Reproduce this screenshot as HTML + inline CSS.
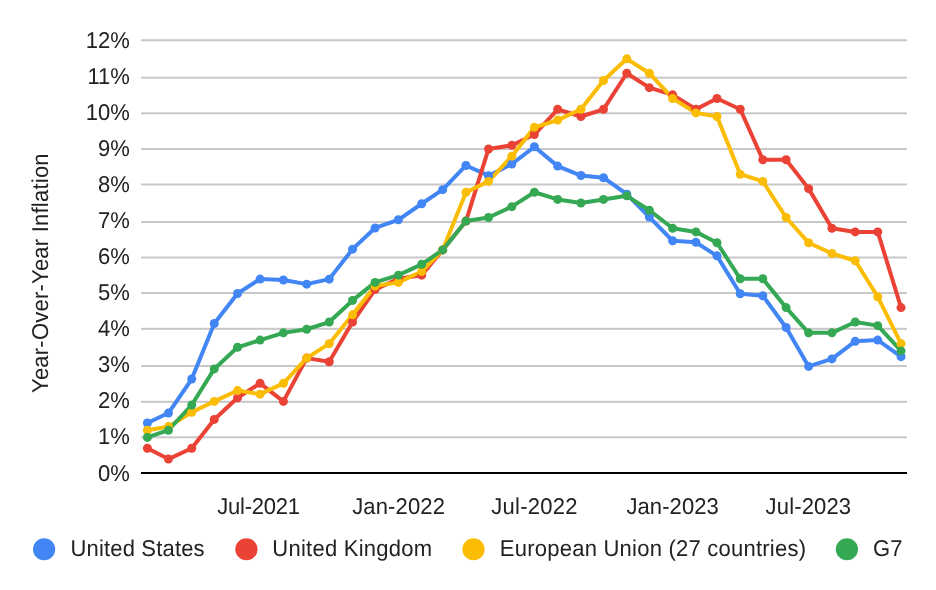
<!DOCTYPE html>
<html><head><meta charset="utf-8"><style>
html,body{margin:0;padding:0;background:#fff;}
body{width:936px;height:590px;overflow:hidden;}
svg{display:block;will-change:transform;}
text{text-rendering:geometricPrecision;font-family:"Liberation Sans",sans-serif;font-size:22px;fill:#222222;}
</style></head><body>
<svg width="936" height="590" viewBox="0 0 936 590">
<rect width="936" height="590" fill="#ffffff"/>
<rect x="141" y="436.30" width="766" height="2" fill="#c8c8c8"/>
<rect x="141" y="400.80" width="766" height="2" fill="#c8c8c8"/>
<rect x="141" y="365.00" width="766" height="2" fill="#c8c8c8"/>
<rect x="141" y="327.80" width="766" height="2" fill="#c8c8c8"/>
<rect x="141" y="292.00" width="766" height="2" fill="#c8c8c8"/>
<rect x="141" y="256.50" width="766" height="2" fill="#c8c8c8"/>
<rect x="141" y="221.00" width="766" height="2" fill="#c8c8c8"/>
<rect x="141" y="183.50" width="766" height="2" fill="#c8c8c8"/>
<rect x="141" y="148.00" width="766" height="2" fill="#c8c8c8"/>
<rect x="141" y="112.30" width="766" height="2" fill="#c8c8c8"/>
<rect x="141" y="76.70" width="766" height="2" fill="#c8c8c8"/>
<rect x="141" y="39.25" width="766" height="2" fill="#c8c8c8"/>
<text x="129.90" y="480.52" text-anchor="end" transform="matrix(1,0,0,1.04,0,-19.221)">0%</text>
<text x="129.90" y="444.46" text-anchor="end" transform="matrix(1,0,0,1.04,0,-17.778)">1%</text>
<text x="129.90" y="408.40" text-anchor="end" transform="matrix(1,0,0,1.04,0,-16.336)">2%</text>
<text x="129.90" y="372.34" text-anchor="end" transform="matrix(1,0,0,1.04,0,-14.894)">3%</text>
<text x="129.90" y="336.28" text-anchor="end" transform="matrix(1,0,0,1.04,0,-13.451)">4%</text>
<text x="129.90" y="300.22" text-anchor="end" transform="matrix(1,0,0,1.04,0,-12.009)">5%</text>
<text x="129.90" y="264.16" text-anchor="end" transform="matrix(1,0,0,1.04,0,-10.566)">6%</text>
<text x="129.90" y="228.10" text-anchor="end" transform="matrix(1,0,0,1.04,0,-9.124)">7%</text>
<text x="129.90" y="192.04" text-anchor="end" transform="matrix(1,0,0,1.04,0,-7.682)">8%</text>
<text x="129.90" y="155.98" text-anchor="end" transform="matrix(1,0,0,1.04,0,-6.239)">9%</text>
<text x="129.90" y="119.92" text-anchor="end" transform="matrix(1,0,0,1.04,0,-4.797)">10%</text>
<text x="129.90" y="83.86" text-anchor="end" transform="matrix(1,0,0,1.04,0,-3.354)">11%</text>
<text x="129.90" y="47.80" text-anchor="end" transform="matrix(1,0,0,1.04,0,-1.912)">12%</text>
<text x="258.61" y="513.60" text-anchor="middle" textLength="82.68" lengthAdjust="spacing" transform="matrix(1,0,0,1.04,0,-20.544)">Jul-2021</text>
<text x="398.57" y="513.60" text-anchor="middle" textLength="92.78" lengthAdjust="spacing" transform="matrix(1,0,0,1.04,0,-20.544)">Jan-2022</text>
<text x="534.37" y="513.60" text-anchor="middle" textLength="86.33" lengthAdjust="spacing" transform="matrix(1,0,0,1.04,0,-20.544)">Jul-2022</text>
<text x="672.63" y="513.60" text-anchor="middle" textLength="92.32" lengthAdjust="spacing" transform="matrix(1,0,0,1.04,0,-20.544)">Jan-2023</text>
<text x="808.33" y="513.60" text-anchor="middle" textLength="85.42" lengthAdjust="spacing" transform="matrix(1,0,0,1.04,0,-20.544)">Jul-2023</text>
<rect x="141" y="472.00" width="766" height="2" fill="#000000"/>
<polyline points="147.40,423.02 168.44,413.06 191.73,379.02 214.27,323.49 237.57,293.45 260.11,279.10 283.40,280.04 306.70,284.15 329.24,279.14 352.53,249.13 375.07,227.97 398.37,219.78 421.66,203.77 442.70,189.67 465.99,165.48 488.54,175.68 511.83,164.03 534.37,146.80 557.66,166.09 580.96,175.54 603.50,177.74 626.79,194.22 649.34,217.11 672.63,240.77 695.92,242.32 716.96,255.84 740.25,293.74 762.80,295.72 786.09,327.53 808.63,366.40 831.93,358.94 855.22,341.34 877.76,340.08 901.05,356.63" fill="none" stroke="#4285f4" stroke-width="4" stroke-linejoin="round" stroke-linecap="round"/>
<polyline points="147.40,448.26 168.44,459.08 191.73,448.26 214.27,419.41 237.57,397.77 260.11,383.35 283.40,401.38 306.70,358.11 329.24,361.71 352.53,322.05 375.07,289.59 398.37,278.78 421.66,275.17 442.70,249.93 465.99,221.08 488.54,148.96 511.83,145.35 534.37,134.54 557.66,109.29 580.96,116.51 603.50,109.29 626.79,73.23 649.34,87.66 672.63,94.87 695.92,109.29 716.96,98.48 740.25,109.29 762.80,159.78 786.09,159.78 808.63,188.63 831.93,228.29 855.22,231.90 877.76,231.90 901.05,307.62" fill="none" stroke="#ea4335" stroke-width="4" stroke-linejoin="round" stroke-linecap="round"/>
<polyline points="147.40,430.23 168.44,426.62 191.73,412.20 214.27,401.38 237.57,390.56 260.11,394.17 283.40,383.35 306.70,358.11 329.24,343.68 352.53,314.84 375.07,285.99 398.37,282.38 421.66,271.56 442.70,249.93 465.99,192.23 488.54,181.41 511.83,156.17 534.37,127.32 557.66,120.11 580.96,109.29 603.50,80.45 626.79,58.81 649.34,73.23 672.63,98.48 695.92,112.90 716.96,116.51 740.25,174.20 762.80,181.41 786.09,217.47 808.63,242.72 831.93,253.53 855.22,260.75 877.76,296.81 901.05,343.68" fill="none" stroke="#fbbc04" stroke-width="4" stroke-linejoin="round" stroke-linecap="round"/>
<polyline points="147.40,437.44 168.44,430.23 191.73,404.99 214.27,368.93 237.57,347.29 260.11,340.08 283.40,332.87 306.70,329.26 329.24,322.05 352.53,300.41 375.07,282.38 398.37,275.17 421.66,264.35 442.70,249.93 465.99,221.08 488.54,217.47 511.83,206.66 534.37,192.23 557.66,199.44 580.96,203.05 603.50,199.44 626.79,195.84 649.34,210.26 672.63,228.29 695.92,231.90 716.96,242.72 740.25,278.78 762.80,278.78 786.09,307.62 808.63,332.87 831.93,332.87 855.22,322.05 877.76,325.65 901.05,350.90" fill="none" stroke="#34a853" stroke-width="4" stroke-linejoin="round" stroke-linecap="round"/>
<g fill="#4285f4">
<circle cx="147.40" cy="423.02" r="4.5"/>
<circle cx="168.44" cy="413.06" r="4.5"/>
<circle cx="191.73" cy="379.02" r="4.5"/>
<circle cx="214.27" cy="323.49" r="4.5"/>
<circle cx="237.57" cy="293.45" r="4.5"/>
<circle cx="260.11" cy="279.10" r="4.5"/>
<circle cx="283.40" cy="280.04" r="4.5"/>
<circle cx="306.70" cy="284.15" r="4.5"/>
<circle cx="329.24" cy="279.14" r="4.5"/>
<circle cx="352.53" cy="249.13" r="4.5"/>
<circle cx="375.07" cy="227.97" r="4.5"/>
<circle cx="398.37" cy="219.78" r="4.5"/>
<circle cx="421.66" cy="203.77" r="4.5"/>
<circle cx="442.70" cy="189.67" r="4.5"/>
<circle cx="465.99" cy="165.48" r="4.5"/>
<circle cx="488.54" cy="175.68" r="4.5"/>
<circle cx="511.83" cy="164.03" r="4.5"/>
<circle cx="534.37" cy="146.80" r="4.5"/>
<circle cx="557.66" cy="166.09" r="4.5"/>
<circle cx="580.96" cy="175.54" r="4.5"/>
<circle cx="603.50" cy="177.74" r="4.5"/>
<circle cx="626.79" cy="194.22" r="4.5"/>
<circle cx="649.34" cy="217.11" r="4.5"/>
<circle cx="672.63" cy="240.77" r="4.5"/>
<circle cx="695.92" cy="242.32" r="4.5"/>
<circle cx="716.96" cy="255.84" r="4.5"/>
<circle cx="740.25" cy="293.74" r="4.5"/>
<circle cx="762.80" cy="295.72" r="4.5"/>
<circle cx="786.09" cy="327.53" r="4.5"/>
<circle cx="808.63" cy="366.40" r="4.5"/>
<circle cx="831.93" cy="358.94" r="4.5"/>
<circle cx="855.22" cy="341.34" r="4.5"/>
<circle cx="877.76" cy="340.08" r="4.5"/>
<circle cx="901.05" cy="356.63" r="4.5"/>
</g>
<g fill="#ea4335">
<circle cx="147.40" cy="448.26" r="4.5"/>
<circle cx="168.44" cy="459.08" r="4.5"/>
<circle cx="191.73" cy="448.26" r="4.5"/>
<circle cx="214.27" cy="419.41" r="4.5"/>
<circle cx="237.57" cy="397.77" r="4.5"/>
<circle cx="260.11" cy="383.35" r="4.5"/>
<circle cx="283.40" cy="401.38" r="4.5"/>
<circle cx="306.70" cy="358.11" r="4.5"/>
<circle cx="329.24" cy="361.71" r="4.5"/>
<circle cx="352.53" cy="322.05" r="4.5"/>
<circle cx="375.07" cy="289.59" r="4.5"/>
<circle cx="398.37" cy="278.78" r="4.5"/>
<circle cx="421.66" cy="275.17" r="4.5"/>
<circle cx="442.70" cy="249.93" r="4.5"/>
<circle cx="465.99" cy="221.08" r="4.5"/>
<circle cx="488.54" cy="148.96" r="4.5"/>
<circle cx="511.83" cy="145.35" r="4.5"/>
<circle cx="534.37" cy="134.54" r="4.5"/>
<circle cx="557.66" cy="109.29" r="4.5"/>
<circle cx="580.96" cy="116.51" r="4.5"/>
<circle cx="603.50" cy="109.29" r="4.5"/>
<circle cx="626.79" cy="73.23" r="4.5"/>
<circle cx="649.34" cy="87.66" r="4.5"/>
<circle cx="672.63" cy="94.87" r="4.5"/>
<circle cx="695.92" cy="109.29" r="4.5"/>
<circle cx="716.96" cy="98.48" r="4.5"/>
<circle cx="740.25" cy="109.29" r="4.5"/>
<circle cx="762.80" cy="159.78" r="4.5"/>
<circle cx="786.09" cy="159.78" r="4.5"/>
<circle cx="808.63" cy="188.63" r="4.5"/>
<circle cx="831.93" cy="228.29" r="4.5"/>
<circle cx="855.22" cy="231.90" r="4.5"/>
<circle cx="877.76" cy="231.90" r="4.5"/>
<circle cx="901.05" cy="307.62" r="4.5"/>
</g>
<g fill="#fbbc04">
<circle cx="147.40" cy="430.23" r="4.5"/>
<circle cx="168.44" cy="426.62" r="4.5"/>
<circle cx="191.73" cy="412.20" r="4.5"/>
<circle cx="214.27" cy="401.38" r="4.5"/>
<circle cx="237.57" cy="390.56" r="4.5"/>
<circle cx="260.11" cy="394.17" r="4.5"/>
<circle cx="283.40" cy="383.35" r="4.5"/>
<circle cx="306.70" cy="358.11" r="4.5"/>
<circle cx="329.24" cy="343.68" r="4.5"/>
<circle cx="352.53" cy="314.84" r="4.5"/>
<circle cx="375.07" cy="285.99" r="4.5"/>
<circle cx="398.37" cy="282.38" r="4.5"/>
<circle cx="421.66" cy="271.56" r="4.5"/>
<circle cx="442.70" cy="249.93" r="4.5"/>
<circle cx="465.99" cy="192.23" r="4.5"/>
<circle cx="488.54" cy="181.41" r="4.5"/>
<circle cx="511.83" cy="156.17" r="4.5"/>
<circle cx="534.37" cy="127.32" r="4.5"/>
<circle cx="557.66" cy="120.11" r="4.5"/>
<circle cx="580.96" cy="109.29" r="4.5"/>
<circle cx="603.50" cy="80.45" r="4.5"/>
<circle cx="626.79" cy="58.81" r="4.5"/>
<circle cx="649.34" cy="73.23" r="4.5"/>
<circle cx="672.63" cy="98.48" r="4.5"/>
<circle cx="695.92" cy="112.90" r="4.5"/>
<circle cx="716.96" cy="116.51" r="4.5"/>
<circle cx="740.25" cy="174.20" r="4.5"/>
<circle cx="762.80" cy="181.41" r="4.5"/>
<circle cx="786.09" cy="217.47" r="4.5"/>
<circle cx="808.63" cy="242.72" r="4.5"/>
<circle cx="831.93" cy="253.53" r="4.5"/>
<circle cx="855.22" cy="260.75" r="4.5"/>
<circle cx="877.76" cy="296.81" r="4.5"/>
<circle cx="901.05" cy="343.68" r="4.5"/>
</g>
<g fill="#34a853">
<circle cx="147.40" cy="437.44" r="4.5"/>
<circle cx="168.44" cy="430.23" r="4.5"/>
<circle cx="191.73" cy="404.99" r="4.5"/>
<circle cx="214.27" cy="368.93" r="4.5"/>
<circle cx="237.57" cy="347.29" r="4.5"/>
<circle cx="260.11" cy="340.08" r="4.5"/>
<circle cx="283.40" cy="332.87" r="4.5"/>
<circle cx="306.70" cy="329.26" r="4.5"/>
<circle cx="329.24" cy="322.05" r="4.5"/>
<circle cx="352.53" cy="300.41" r="4.5"/>
<circle cx="375.07" cy="282.38" r="4.5"/>
<circle cx="398.37" cy="275.17" r="4.5"/>
<circle cx="421.66" cy="264.35" r="4.5"/>
<circle cx="442.70" cy="249.93" r="4.5"/>
<circle cx="465.99" cy="221.08" r="4.5"/>
<circle cx="488.54" cy="217.47" r="4.5"/>
<circle cx="511.83" cy="206.66" r="4.5"/>
<circle cx="534.37" cy="192.23" r="4.5"/>
<circle cx="557.66" cy="199.44" r="4.5"/>
<circle cx="580.96" cy="203.05" r="4.5"/>
<circle cx="603.50" cy="199.44" r="4.5"/>
<circle cx="626.79" cy="195.84" r="4.5"/>
<circle cx="649.34" cy="210.26" r="4.5"/>
<circle cx="672.63" cy="228.29" r="4.5"/>
<circle cx="695.92" cy="231.90" r="4.5"/>
<circle cx="716.96" cy="242.72" r="4.5"/>
<circle cx="740.25" cy="278.78" r="4.5"/>
<circle cx="762.80" cy="278.78" r="4.5"/>
<circle cx="786.09" cy="307.62" r="4.5"/>
<circle cx="808.63" cy="332.87" r="4.5"/>
<circle cx="831.93" cy="332.87" r="4.5"/>
<circle cx="855.22" cy="322.05" r="4.5"/>
<circle cx="877.76" cy="325.65" r="4.5"/>
<circle cx="901.05" cy="350.90" r="4.5"/>
</g>
<g transform="translate(48.00,273.20) rotate(-90) scale(1,1.04)"><text x="0" y="0" text-anchor="middle" textLength="239.62" lengthAdjust="spacing">Year-Over-Year Inflation</text></g>
<circle cx="44.1" cy="549.25" r="11.1" fill="#4285f4"/>
<text x="70.45" y="555.80" textLength="134.14" lengthAdjust="spacing" transform="matrix(1,0,0,1.04,0,-22.232)">United States</text>
<circle cx="246.4" cy="549.25" r="11.1" fill="#ea4335"/>
<text x="272.35" y="555.80" textLength="159.67" lengthAdjust="spacing" transform="matrix(1,0,0,1.04,0,-22.232)">United Kingdom</text>
<circle cx="473.5" cy="549.25" r="11.1" fill="#fbbc04"/>
<text x="499.85" y="555.80" textLength="306.15" lengthAdjust="spacing" transform="matrix(1,0,0,1.04,0,-22.232)">European Union (27 countries)</text>
<circle cx="846.9" cy="549.25" r="11.1" fill="#34a853"/>
<text x="873.10" y="555.80" textLength="29.36" lengthAdjust="spacing" transform="matrix(1,0,0,1.04,0,-22.232)">G7</text>
</svg>
</body></html>
